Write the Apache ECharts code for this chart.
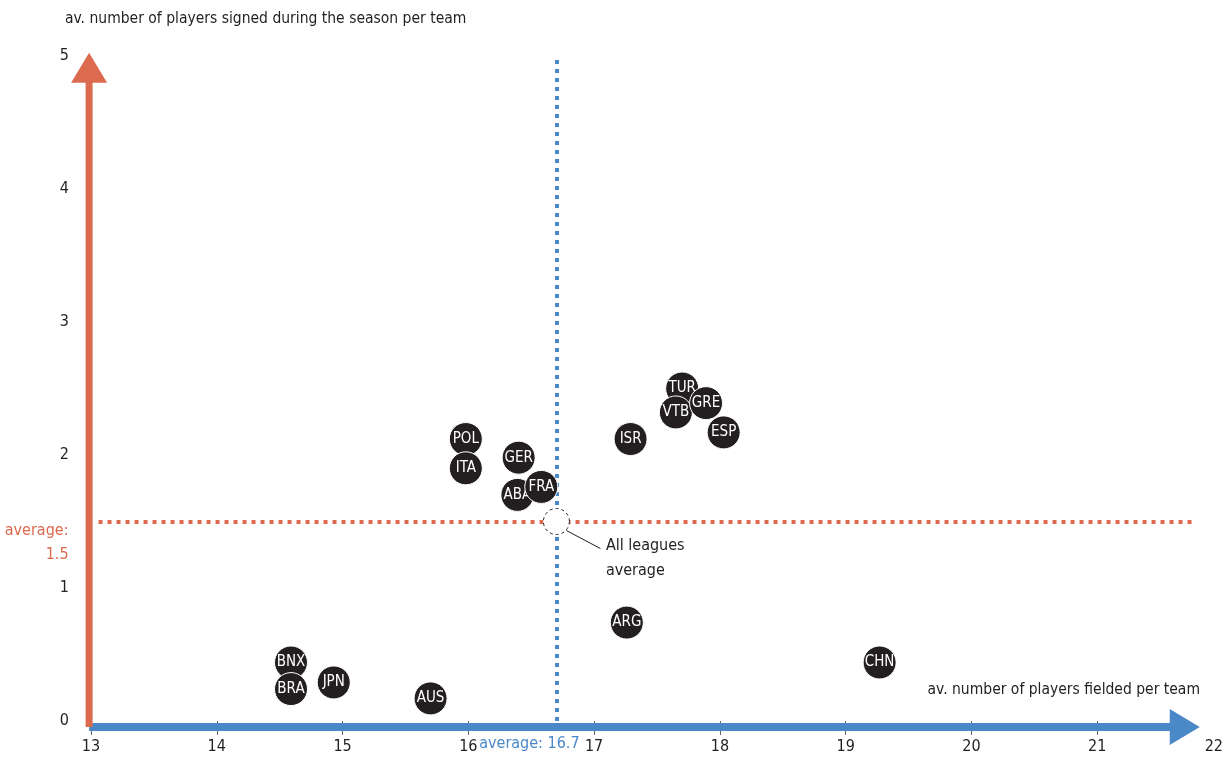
<!DOCTYPE html>
<html>
<head>
<meta charset="utf-8">
<script src="https://cdn.jsdelivr.net/npm/echarts@6/dist/echarts.min.js"></script>
<style>
  html, body { margin: 0; padding: 0; background: #ffffff; }
  #chart { width: 1229px; height: 760px; }
</style>
</head>
<body>
<div id="chart"></div>
<script>
// League codes, in drawing order (later ones sit on top of earlier ones)
const leagues = ['TUR', 'VTB', 'ESP', 'GRE', 'ISR', 'POL', 'ITA', 'ABA', 'GER', 'FRA', 'ARG', 'CHN', 'BNX', 'BRA', 'JPN', 'AUS'];
// av. number of players fielded per team
const playersFielded = [17.70, 17.65, 18.03, 17.89, 17.29, 15.98, 15.98, 16.39, 16.40, 16.58, 17.26, 19.27, 14.59, 14.59, 14.93, 15.70];
// av. number of players signed during the season per team
const playersSigned = [2.50, 2.32, 2.17, 2.39, 2.12, 2.12, 1.90, 1.70, 1.98, 1.76, 0.74, 0.44, 0.44, 0.24, 0.29, 0.17];

// All leagues average
const avgFielded = 16.7;
const avgSigned = 1.5;

// Axis ranges / ticks
const xTicks = [13, 14, 15, 16, 17, 18, 19, 20, 21, 22];
const yTicks = [0, 1, 2, 3, 4, 5];

// Arrow axes in data space: [fromX, fromY, tipX, tipY]
const axisArrows = [
  [12.985, -0.045, 21.815, -0.045],   // horizontal (blue)
  [12.985, -0.045, 12.985, 5.025]     // vertical (red)
];

const RED = '#dc6a4e';
const BLUE = '#4a88c8';
const INK = '#231f20';
const FONT = "'Liberation Sans Narrow', 'DejaVu Sans Condensed', 'Noto Sans', sans-serif";

const chart = echarts.init(document.getElementById('chart'), null, { renderer: 'canvas' });

const bubbleSeries = leagues.map((code, i) => ({
  type: 'scatter',
  name: code,
  z: 10 + i,
  clip: false,
  symbol: 'circle',
  symbolSize: 33,
  itemStyle: { color: INK, borderColor: '#ffffff', borderWidth: 1, opacity: 1 },
  label: {
    show: true,
    position: 'inside',
    formatter: code,
    color: '#ffffff',
    fontFamily: FONT,
    fontSize: 15
  },
  emphasis: { disabled: true },
  data: [[playersFielded[i], playersSigned[i]]]
}));

function renderArrow(params, api) {
  const p1 = api.coord([api.value(0), api.value(1)]);
  const p2 = api.coord([api.value(2), api.value(3)]);
  const horizontal = params.dataIndex === 0;
  const color = horizontal ? BLUE : RED;
  const width = horizontal ? 8 : 7;
  const headLen = 30, headHalf = 18;
  const dx = p2[0] - p1[0], dy = p2[1] - p1[1];
  const len = Math.hypot(dx, dy);
  const ux = dx / len, uy = dy / len;
  const nx = -uy, ny = ux;
  const bx = p2[0] - ux * headLen, by = p2[1] - uy * headLen;
  return {
    type: 'group',
    children: [
      {
        type: 'line',
        shape: { x1: p1[0], y1: p1[1], x2: bx + ux * 2, y2: by + uy * 2 },
        style: { stroke: color, lineWidth: width }
      },
      {
        type: 'polygon',
        shape: { points: [[p2[0], p2[1]], [bx + nx * headHalf, by + ny * headHalf], [bx - nx * headHalf, by - ny * headHalf]] },
        style: { fill: color }
      }
    ]
  };
}

function renderLeader(params, api) {
  const c = api.coord([api.value(0), api.value(1)]);
  return {
    type: 'line',
    shape: { x1: c[0] + 10, y1: c[1] + 9, x2: c[0] + 44, y2: c[1] + 27 },
    style: { stroke: INK, lineWidth: 1 }
  };
}

const option = {
  animation: false,
  backgroundColor: '#ffffff',
  textStyle: { fontFamily: FONT },
  title: [
    {
      text: 'av. number of players signed during the season per team',
      left: 60, top: 6,
      textStyle: { fontFamily: FONT, fontSize: 15.5, fontWeight: 'normal', color: INK }
    },
    {
      text: 'av. number of players fielded per team',
      right: 24, top: 677,
      textStyle: { fontFamily: FONT, fontSize: 15.5, fontWeight: 'normal', color: INK }
    }
  ],
  grid: { left: 91, right: 6, top: 56, bottom: 39 },
  xAxis: {
    type: 'value',
    min: xTicks[0],
    max: xTicks[xTicks.length - 1],
    interval: 1,
    axisLine: { show: false },
    axisTick: {
      show: true,
      length: 14,
      customValues: xTicks.slice(0, -1),
      lineStyle: { color: '#666', width: 1 }
    },
    splitLine: { show: false },
    axisLabel: {
      margin: 18,
      color: INK,
      fontFamily: FONT,
      fontSize: 16,
      alignMaxLabel: 'right'
    }
  },
  yAxis: {
    type: 'value',
    min: yTicks[0],
    max: yTicks[yTicks.length - 1],
    interval: 1,
    axisLine: { show: false },
    axisTick: { show: false },
    splitLine: { show: false },
    axisLabel: { margin: 22, color: INK, fontFamily: FONT, fontSize: 16 }
  },
  series: [
    {
      // the two average guides
      type: 'scatter',
      name: 'guides',
      z: 1,
      clip: false,
      data: [],
      markLine: {
        z: 1,
        silent: true,
        animation: false,
        symbol: ['none', 'none'],
        data: [
          [
            { coord: [avgFielded, 0], lineStyle: { color: BLUE, width: 4, type: [4, 5] },
              label: { show: true, position: 'start', formatter: 'average: ' + avgFielded,
                       color: BLUE, fontFamily: FONT, fontSize: 16, distance: 15, offset: [-27, 0] } },
            { coord: [avgFielded, 5] }
          ],
          [
            { coord: [13.06, avgSigned], lineStyle: { color: RED, width: 4, type: [4, 5] },
              label: { show: true, position: 'start', formatter: 'average:\n' + avgSigned,
                       color: RED, fontFamily: FONT, fontSize: 16, lineHeight: 24, distance: 30, offset: [0, 21] } },
            { coord: [21.78, avgSigned] }
          ]
        ]
      }
    },
    {
      type: 'custom',
      name: 'axes',
      z: 3,
      clip: false,
      silent: true,
      renderItem: renderArrow,
      data: axisArrows
    },
    {
      type: 'custom',
      name: 'leader',
      z: 4,
      clip: false,
      silent: true,
      renderItem: renderLeader,
      data: [[avgFielded, avgSigned]]
    },
    {
      type: 'scatter',
      name: 'All leagues average',
      z: 5,
      clip: false,
      symbol: 'circle',
      symbolSize: 26,
      itemStyle: { color: '#ffffff', opacity: 1, borderColor: INK, borderWidth: 1, borderType: [3, 3] },
      label: {
        show: true,
        position: 'right',
        distance: 36,
        offset: [0, 37],
        formatter: 'All leagues\naverage',
        align: 'left',
        color: INK,
        textBorderWidth: 0,
        fontFamily: FONT,
        fontSize: 16,
        lineHeight: 25
      },
      emphasis: { disabled: true },
      data: [[avgFielded, avgSigned]]
    }
  ].concat(bubbleSeries)
};

chart.setOption(option);
</script>
</body>
</html>
